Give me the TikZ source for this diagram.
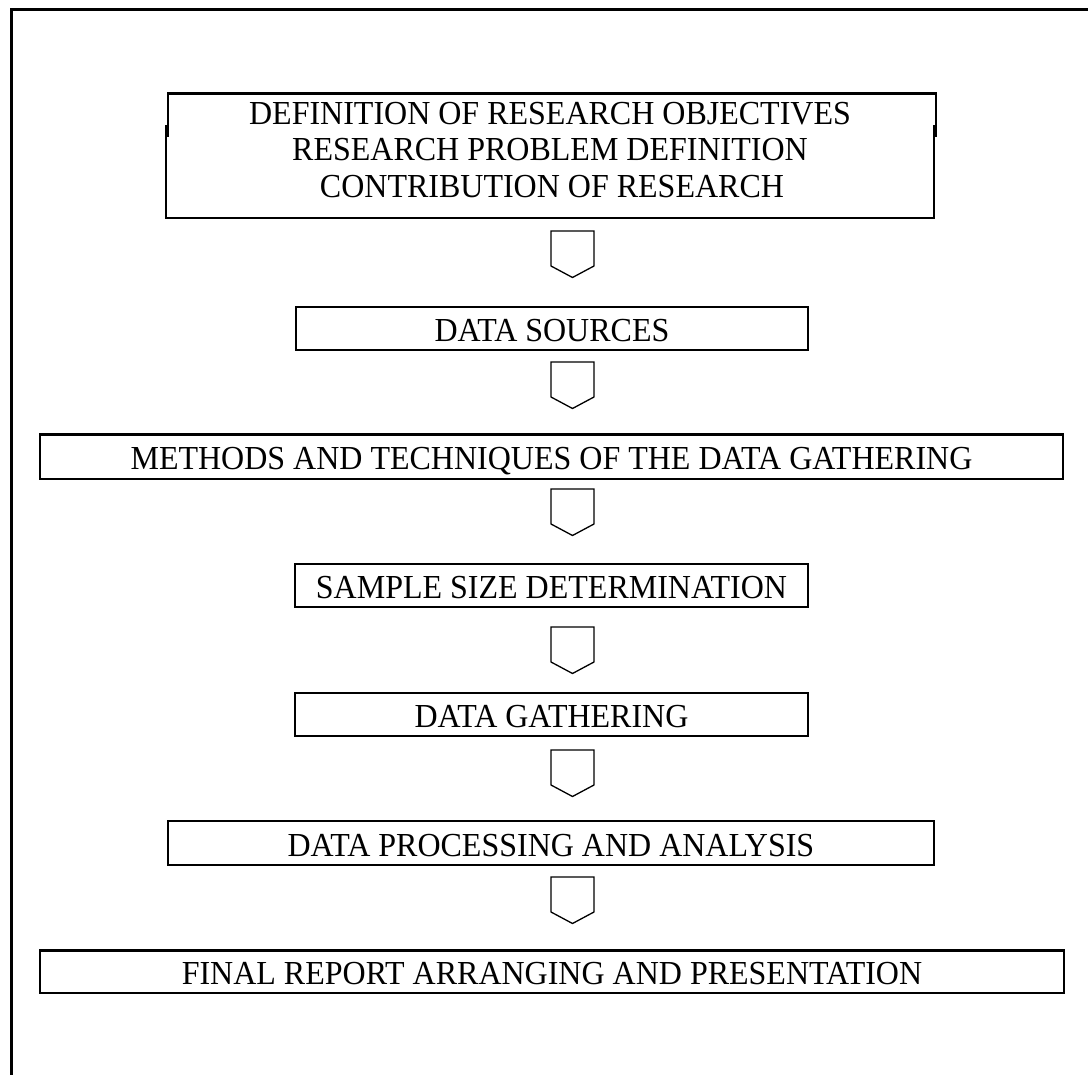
\documentclass[tikz,border=0pt]{standalone}
\usepackage{fontspec}
\setmainfont{Liberation Serif}
\newcommand{\tallcaps}[1]{\scalebox{1}[1.05]{#1}}
\begin{document}
\begin{tikzpicture}[x=1pt,y=-1pt,
  box/.style={draw,line width=2.2pt,inner sep=0pt,text height=26pt,text depth=0pt,
    font=\fontsize{32}{37}\selectfont},
  txt/.style={inner sep=0pt,anchor=base,font=\fontsize{32}{37}\selectfont},
  frame/.style={line width=3pt,line join=miter},
  blk/.style={draw,line width=1.3pt,line join=miter},
  pics/downblk/.style={code={
    \draw[blk] (-21.5,0) -- (21.5,0) -- (21.5,35) -- (0,46.5) -- (-21.5,35) -- cycle;}}]
\useasboundingbox (0,0) rectangle (1088,1075);
% outer frame (only top and left visible)
\coordinate (fbl) at (11,1076);
\coordinate (ftl) at (11,9.7);
\coordinate (ftr) at (1089,9.7);
\draw[frame] (fbl) -- (ftl) -- (ftr);
% box 1 (irregular outline)
\coordinate (b1a) at (167.7,137);
\coordinate (b1b) at (167.7,93.5);
\coordinate (b1c) at (936,93.5);
\coordinate (b1d) at (936,137);
\coordinate (b1e) at (165.7,125);
\coordinate (b1f) at (165.7,218.5);
\coordinate (b1g) at (933.5,218.5);
\coordinate (b1h) at (933.5,125);
\draw[line width=2.3pt,line join=miter] (b1a) -- (b1b) -- (b1c) -- (b1d);
\draw[line width=2pt,line join=miter] (b1e) -- (b1f) -- (b1g) -- (b1h);
\node[txt] (t1a) at (550,124.5) {\tallcaps{DEFINITION OF RESEARCH OBJECTIVES}};
\node[txt] (t1b) at (550,160.5) {\tallcaps{RESEARCH PROBLEM DEFINITION}};
\node[txt] (t1c) at (552,197.5) {\tallcaps{CONTRIBUTION OF RESEARCH}};
% boxes
\node[box,minimum width=512pt,minimum height=43pt] (b2) at (552,328.5) {\tallcaps{DATA SOURCES}};
\node[box,minimum width=1023pt,minimum height=44.5pt] (b3) at (551.5,456.75) {\tallcaps{METHODS AND TECHNIQUES OF THE DATA GATHERING}};
\node[box,minimum width=513pt,minimum height=43pt] (b4) at (551.5,585.5) {\tallcaps{SAMPLE SIZE DETERMINATION}};
\node[box,minimum width=513pt,minimum height=43pt] (b5) at (551.5,714.5) {\tallcaps{DATA GATHERING}};
\node[box,minimum width=766pt,minimum height=44pt] (b6) at (551,843) {\tallcaps{DATA PROCESSING AND ANALYSIS}};
\node[box,minimum width=1024pt,minimum height=42.2pt] (b7) at (552,971.6) {\tallcaps{FINAL REPORT ARRANGING AND PRESENTATION}};
% block arrows
\pic at (572.5,231) {downblk};
\pic at (572.5,362) {downblk};
\pic at (572.5,489) {downblk};
\pic at (572.5,627) {downblk};
\pic at (572.5,750) {downblk};
\pic at (572.5,877) {downblk};
\end{tikzpicture}
\end{document}
